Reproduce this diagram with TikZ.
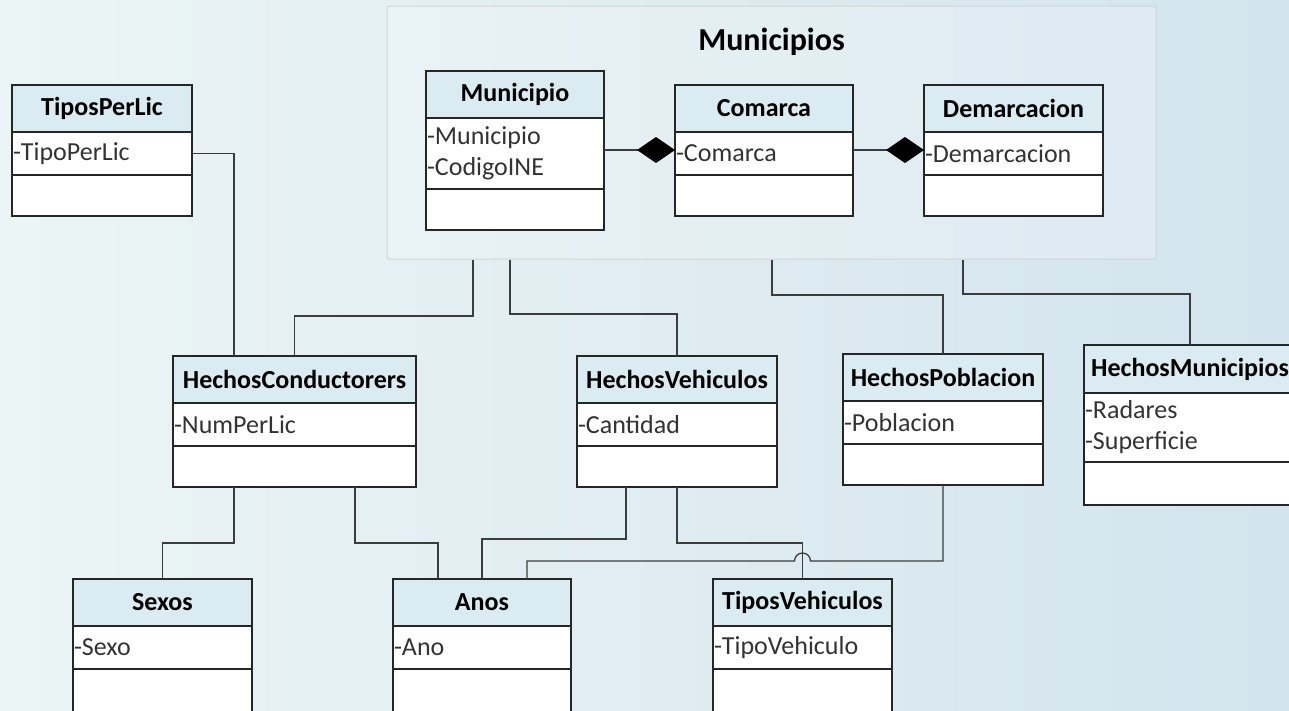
\documentclass[tikz,border=0pt]{standalone}
\usepackage{fontspec}
\setmainfont{Carlito}
\usetikzlibrary{positioning,arrows.meta}

\definecolor{headblue}{RGB}{218,235,242}
\definecolor{bgleft}{RGB}{236,245,245}
\definecolor{bgright}{RGB}{211,228,238}
\definecolor{linegray}{RGB}{60,60,60}
\definecolor{framegray}{RGB}{212,212,212}

\begin{document}
\begin{tikzpicture}[x=1pt,y=-1pt]

        % Setup the styles for the class boxes
        \tikzset{head/.style={draw=black!85, line width=1.6pt, fill=headblue,
                              text width=#1, align=center, outer sep=0pt,
                              inner xsep=1pt, inner ysep=0pt, minimum height=47pt,
                              anchor=north, font=\fontsize{26}{31}\selectfont\bfseries},
                 attrs/.style={draw=black!85, line width=1.6pt, fill=white,
                              text width=#1, align=left, outer sep=0pt,
                              inner xsep=1pt, inner ysep=0pt, minimum height=43pt,
                              text=black!80, font=\fontsize{26}{31}\selectfont},
                 ops/.style={draw=black!85, line width=1.6pt, fill=white,
                              text width=#1, outer sep=0pt, inner xsep=1pt,
                              inner ysep=0pt, minimum height=41pt},
                 link/.style={draw=linegray, line width=1.3pt}}

        \useasboundingbox (0,0) rectangle (1289,710);
        \clip (0,0) rectangle (1289,710);
        \shade[left color=bgleft, right color=bgright] (0,0) rectangle (1289,710);

        % Draw the package frame
        \node[draw=framegray, line width=1pt, rounded corners=2pt, fill=white,
              fill opacity=0.2, minimum width=769pt, minimum height=253pt]
              at (771.5,132.5) (grp) {};
        \node[font=\fontsize{32}{38}\selectfont\bfseries] at (771.5,42) (grpT) {Municipios};

        % Draw the classes
        \node[head=178pt] at (102,85) (tpl) {TiposPerLic};
        \node[attrs=178pt, below=0pt of tpl] (tplA) {-TipoPerLic};
        \node[ops=178pt, below=0pt of tplA] (tplO) {};

        \node[head=176pt] at (515,71) (muni) {Municipio};
        \node[attrs=176pt, minimum height=71pt, below=0pt of muni] (muniA) {-Municipio\\-CodigoINE};
        \node[ops=176pt, below=0pt of muniA] (muniO) {};

        \node[head=176pt] at (764,85) (com) {Comarca};
        \node[attrs=176pt, below=0pt of com] (comA) {-Comarca};
        \node[ops=176pt, below=0pt of comA] (comO) {};

        \node[head=177pt] at (1013.5,85) (dem) {Demarcacion};
        \node[attrs=177pt, below=0pt of dem] (demA) {-Demarcacion};
        \node[ops=177pt, below=0pt of demA] (demO) {};

        \node[head=241pt] at (294.5,356) (hc) {HechosConductorers};
        \node[attrs=241pt, below=0pt of hc] (hcA) {-NumPerLic};
        \node[ops=241pt, below=0pt of hcA] (hcO) {};

        \node[head=198pt] at (677,356) (hv) {HechosVehiculos};
        \node[attrs=198pt, below=0pt of hv] (hvA) {-Cantidad};
        \node[ops=198pt, below=0pt of hvA] (hvO) {};

        \node[head=198pt] at (943,354) (hp) {HechosPoblacion};
        \node[attrs=198pt, below=0pt of hp] (hpA) {-Poblacion};
        \node[ops=198pt, below=0pt of hpA] (hpO) {};

        \node[head=210pt, minimum height=48pt] at (1190,345) (hm) {HechosMunicipios};
        \node[attrs=210pt, minimum height=69pt, below=0pt of hm] (hmA) {-Radares\\-Superficie};
        \node[ops=210pt, minimum height=43pt, below=0pt of hmA] (hmO) {};

        \node[head=177pt] at (162.5,579) (sex) {Sexos};
        \node[attrs=177pt, below=0pt of sex] (sexA) {-Sexo};
        \node[ops=177pt, minimum height=45pt, below=0pt of sexA] (sexO) {};

        \node[head=176pt] at (482,579) (anos) {Anos};
        \node[attrs=176pt, below=0pt of anos] (anosA) {-Ano};
        \node[ops=176pt, minimum height=45pt, below=0pt of anosA] (anosO) {};

        \node[head=177pt] at (802.5,579) (tv) {TiposVehiculos};
        \node[attrs=177pt, below=0pt of tv] (tvA) {-TipoVehiculo};
        \node[ops=177pt, minimum height=45pt, below=0pt of tvA] (tvO) {};

        % Connect the classes
        \draw[link, -{Diamond[length=38pt, width=26pt, color=black]}] (muniA.east |- 0,150) -- (comA.west |- 0,150);
        \draw[link, -{Diamond[length=38pt, width=26pt, color=black]}] (comA.east |- 0,150) -- (demA.west |- 0,150);

        \draw[link] (tplA.east) -| ([xshift=-60.5pt]hc.north);
        \draw[link] (grp.south -| 473,0) |- (hc.north |- 0,316) -- (hc.north);
        \draw[link] (grp.south -| 510,0) |- (hv.north |- 0,314) -- (hv.north);
        \draw[link] (grp.south -| 772,0) |- (hp.north |- 0,295) -- (hp.north);
        \draw[link] (grp.south -| 963,0) |- (hm.north |- 0,294) -- (hm.north);
        \draw[link] (hcO.south -| 234,0) |- (sex.north |- 0,543) -- (sex.north);
        \draw[link] (hcO.south -| 355,0) |- (438,543) -- (anos.north -| 438,0);
        \draw[link] (hvO.south -| 626,0) |- (anos.north |- 0,539) -- (anos.north);
        \draw[link] (hvO.south) |- (tv.north |- 0,543) -- (tv.north);
        \draw[link] (hpO.south) |- (810.5,561) arc[start angle=0, end angle=180, radius=8pt]
                    -| ([xshift=45pt]anos.north);
\end{tikzpicture}
\end{document}
